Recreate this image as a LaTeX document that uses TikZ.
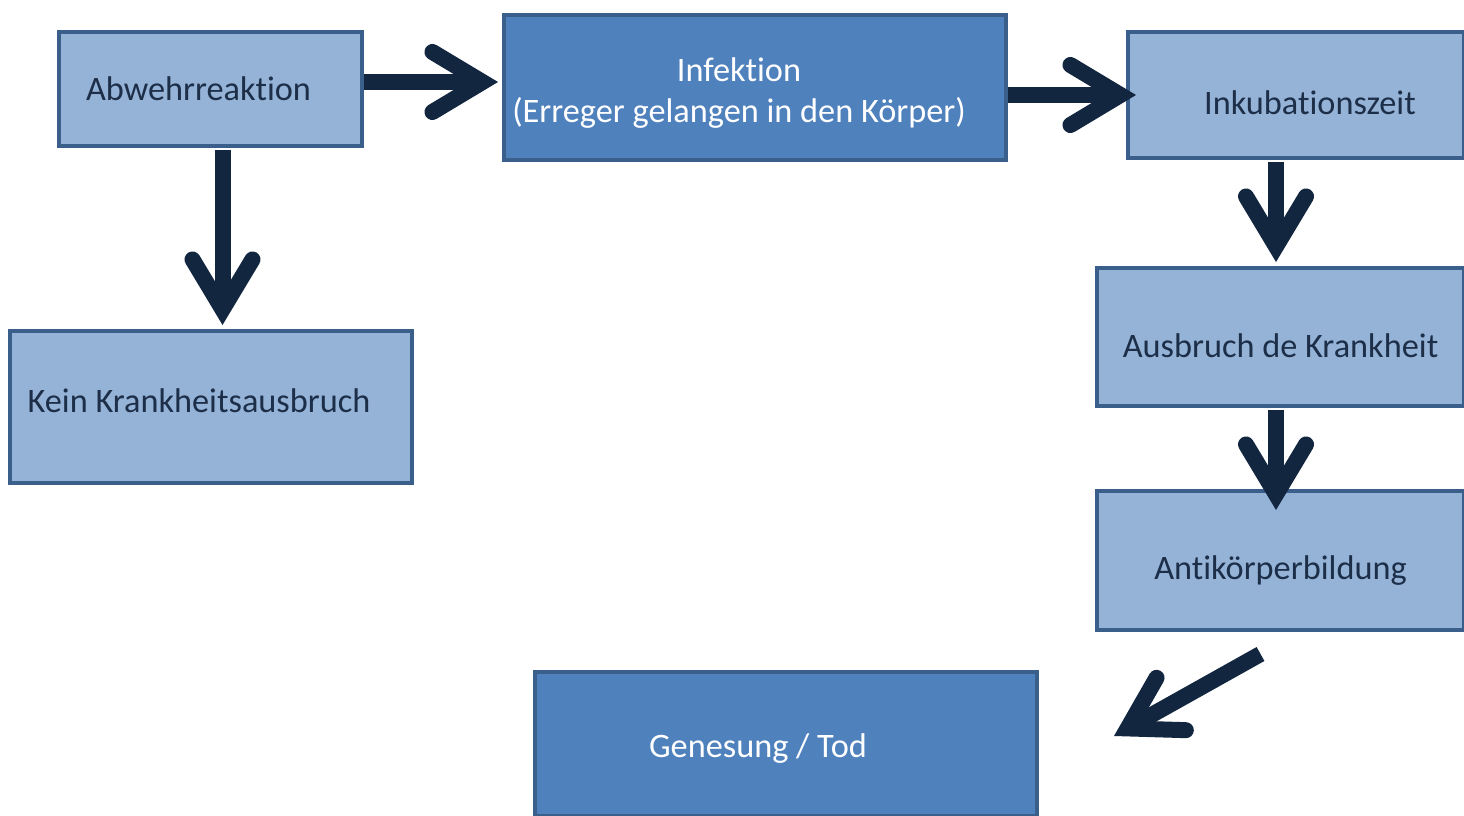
\documentclass[tikz,border=0pt]{standalone}
\usepackage{fontspec}
\setmainfont{Carlito}[Ligatures={NoCommon}, RawFeature={-liga;-clig;-calt}]
\usetikzlibrary{arrows.meta, positioning}
\definecolor{boxlight}{HTML}{95B3D7}
\definecolor{boxdark}{HTML}{4F81BD}
\definecolor{boxline}{HTML}{3A5F8B}
\definecolor{arrowcol}{HTML}{12263F}
\definecolor{textdark}{HTML}{1C2E48}
\tikzset{
    lightbox/.style={rectangle, draw=boxline, line width=4pt, fill=boxlight, anchor=north west, inner sep=0pt},
    darkbox/.style={lightbox, fill=boxdark},
    darktext/.style={font=\fontsize{34.3}{41}\selectfont, text=textdark, align=center},
    whitetext/.style={darktext, text=white},
    flowarr/.style={arrowcol, line width=16pt, -{Straight Barb[length=50pt, width=60pt, line cap=round, line join=miter]}},
}

\begin{document}
\begin{tikzpicture}[x=1pt, y=-1pt]
\useasboundingbox (0,0) rectangle (1464,816);

% Left column - defence path
\node[lightbox, minimum width=303pt, minimum height=114pt, label={[darktext, xshift=-12pt]center:Abwehrreaktion}] (abw) at (57,30) {};
\node[lightbox, minimum width=402pt, minimum height=152pt, label={[darktext, xshift=-12pt, yshift=6pt]center:Kein Krankheitsausbruch}] (kein) at (8,329) {};

% Top row - infection
\node[darkbox, minimum width=502pt, minimum height=145pt, label={[whitetext, xshift=-16pt, yshift=-6pt]center:Infektion\\(Erreger gelangen in den Körper)}] (inf) at (502,13) {};

% Right column - course of the disease
\node[lightbox, minimum width=336pt, minimum height=126pt, label={[darktext, xshift=14pt, yshift=-8pt]center:Inkubationszeit}] (inku) at (1126,30) {};
\node[lightbox, minimum width=367pt, minimum height=138pt, label={[darktext, yshift=-9pt]center:Ausbruch de Krankheit}] (ausb) at (1095,266) {};
\node[lightbox, minimum width=367pt, minimum height=139pt, label={[darktext, yshift=-10pt]center:Antikörperbildung}] (anti) at (1095,489) {};

% Bottom - outcome
\node[darkbox, minimum width=502pt, minimum height=144pt, label={[whitetext, xshift=-28pt, yshift=-5pt]center:Genesung / Tod}] (gen) at (533,670) {};

% Free ends of the diagonal arrow
\coordinate (antiout) at ([xshift=-20pt, yshift=-22pt]anti.south);
\coordinate (genin) at ([xshift=75pt, yshift=8pt]gen.east);

% Arrows
\draw[flowarr, shorten >=4pt] ([yshift=7pt]abw.east) -- ([yshift=7pt]abw.east -| inf.west);
\draw[flowarr, shorten >=-10pt] ([yshift=-7.5pt]inf.east) -- ([yshift=-7.5pt]inf.east -| inku.west);
\draw[flowarr, shorten <=2pt, shorten >=4pt] ([xshift=12pt]abw.south) -- ([xshift=12pt]abw.south |- kein.north);
\draw[flowarr, shorten <=2pt, shorten >=4pt] ([xshift=-20pt]inku.south) -- ([xshift=-20pt]inku.south |- ausb.north);
\draw[flowarr, shorten <=2pt, shorten >=-21pt] ([xshift=-4.5pt]ausb.south) -- ([xshift=-4.5pt]ausb.south |- anti.north);
\draw[flowarr] (antiout) -- (genin);
\end{tikzpicture}
\end{document}
